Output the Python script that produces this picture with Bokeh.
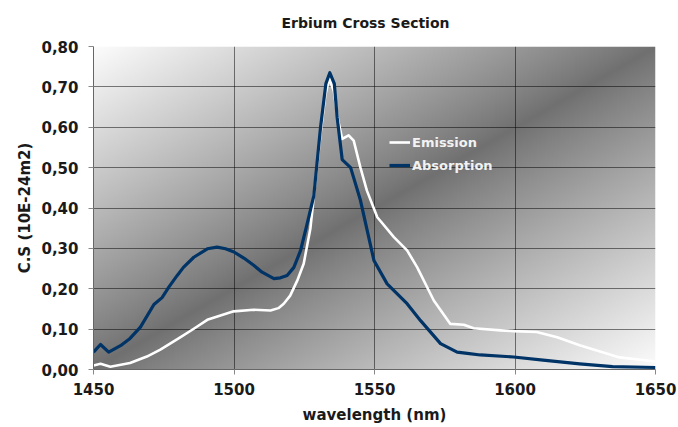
import numpy as np
from bokeh.plotting import figure
from bokeh.models import Range1d, FixedTicker, CustomJSTickFormatter, Legend, LegendItem
from bokeh.embed import file_html
from bokeh.resources import INLINE

# ---- data ----
abs_wl = [1450, 1452.5, 1455.4, 1459.6, 1463, 1466.7, 1471.5, 1474.4, 1476.8, 1479.8,
          1482, 1485.7, 1490.5, 1494, 1497, 1500, 1503.5, 1507, 1510, 1514.2,
          1516.5, 1518.9, 1521.3, 1523.7, 1526, 1528.4, 1530.8, 1532.7, 1534.1, 1535.7,
          1536.7, 1538.5, 1541.5, 1545, 1549.8, 1554.5, 1561.6, 1566.4, 1573.5, 1579.4,
          1583, 1587.7, 1599.5, 1610, 1623, 1634.7, 1650]
abs_val = [0.043, 0.062, 0.043, 0.059, 0.077, 0.105, 0.161, 0.178, 0.204, 0.233,
           0.253, 0.278, 0.299, 0.303, 0.299, 0.291, 0.276, 0.258, 0.241, 0.225,
           0.227, 0.233, 0.253, 0.295, 0.360, 0.430, 0.600, 0.708, 0.735, 0.708,
           0.625, 0.520, 0.500, 0.419, 0.270, 0.212, 0.163, 0.121, 0.064, 0.043,
           0.040, 0.036, 0.031, 0.023, 0.014, 0.007, 0.005]

em_wl = [1450, 1452.5, 1456, 1463, 1469, 1473.8, 1481, 1485.7, 1490.5, 1495.2,
         1499.9, 1507, 1513, 1515.8, 1517.7, 1520, 1522.5, 1524.8, 1527.2, 1530.8,
         1532.5, 1533.9, 1535.5, 1537, 1538.5, 1540.8, 1542.6, 1545, 1547.3, 1551,
         1556.9, 1561.6, 1565.2, 1571.1, 1577, 1581.8, 1585.3, 1594.8, 1599.5, 1607.7,
         1615, 1623, 1637.2, 1650]
em_val = [0.010, 0.014, 0.007, 0.016, 0.032, 0.049, 0.080, 0.101, 0.123, 0.134,
          0.144, 0.148, 0.146, 0.152, 0.163, 0.183, 0.220, 0.262, 0.350, 0.584,
          0.680, 0.720, 0.690, 0.620, 0.571, 0.580, 0.567, 0.500, 0.443, 0.377,
          0.328, 0.295, 0.253, 0.171, 0.113, 0.111, 0.102, 0.097, 0.095, 0.093,
          0.080, 0.060, 0.030, 0.020]

x_ticks = [1450, 1500, 1550, 1600, 1650]
y_ticks = [0.0, 0.1, 0.2, 0.3, 0.4, 0.5, 0.6, 0.7, 0.8]
title_text = "Erbium Cross Section"

FONT = "DejaVu Sans"

p = figure(width=678, height=427, output_backend="svg", toolbar_location=None,
           x_range=Range1d(1450, 1650), y_range=Range1d(0, 0.8),
           frame_width=562, frame_height=323,
           min_border_left=93, min_border_right=23, min_border_top=46, min_border_bottom=58,
           title=title_text)
p.background_fill_color = "white"
p.border_fill_color = "white"
p.outline_line_color = None

# ---- diagonal gradient background of the plot area ----
nx, ny = 281, 162
u = np.linspace(0, 1, nx)[None, :]
v = 1 - np.linspace(0, 1, ny)[:, None]
s = np.abs(1 - (u + v))
dark, light = 112, 252
g = (dark + (light - dark) * s ** 0.9).clip(0, 255).astype(np.uint32)
img = (255 << 24) | (g << 16) | (g << 8) | g
bg = p.image_rgba(image=[img.astype(np.uint32)], x=1450, y=0, dw=200, dh=0.8)
bg.level = "image"

# ---- curves ----
r_em = p.line(em_wl, em_val, line_color="white", line_width=2.6, line_join="round")
r_ab = p.line(abs_wl, abs_val, line_color="#003366", line_width=3.2, line_join="round")

# ---- axes ----
p.xaxis.ticker = FixedTicker(ticks=x_ticks)
p.yaxis.ticker = FixedTicker(ticks=y_ticks)
p.yaxis.formatter = CustomJSTickFormatter(code="return tick.toFixed(2).replace('.', ',');")
for ax in (p.xaxis[0], p.yaxis[0]):
    ax.major_label_text_font = FONT
    ax.major_label_text_font_style = "bold"
    ax.major_label_text_font_size = "15px"
    ax.major_label_text_color = "#1a1a1a"
    ax.axis_label_text_font = FONT
    ax.axis_label_text_font_style = "bold"
    ax.axis_label_text_font_size = "15px"
    ax.axis_label_text_color = "#1a1a1a"
    ax.minor_tick_line_color = None
    ax.major_tick_in = 0
    ax.major_tick_out = 5
    ax.major_tick_line_color = "#888888"
    ax.axis_line_color = "#666666"
p.xaxis.axis_label = "wavelength (nm)"
p.yaxis.axis_label = "C.S (10E-24m2)"
p.xaxis.major_label_standoff = 8
p.yaxis.major_label_standoff = 10
p.xaxis.axis_label_standoff = 8
p.yaxis.axis_label_standoff = 4

p.xgrid.grid_line_color = "black"
p.xgrid.grid_line_alpha = 0.5
p.ygrid.grid_line_color = "black"
p.ygrid.grid_line_alpha = 0.5

p.title.text_font = FONT
p.title.text_font_style = "bold"
p.title.text_font_size = "14px"
p.title.text_color = "#1a1a1a"
p.title.align = "left"
p.title.vertical_align = "top"
p.title.offset = 188
p.title.standoff = 28

legend = Legend(items=[LegendItem(label="Emission", renderers=[r_em]),
                       LegendItem(label="Absorption", renderers=[r_ab])],
                location=(296, 194))
legend.background_fill_alpha = 0
legend.border_line_color = None
legend.label_text_color = "#f2f2f2"
legend.label_text_font = FONT
legend.label_text_font_style = "bold"
legend.label_text_font_size = "13px"
legend.glyph_width = 21
legend.label_standoff = 2
legend.padding = 0
legend.spacing = 3
p.add_layout(legend)

open("out.html", "w").write(file_html(p, INLINE))
